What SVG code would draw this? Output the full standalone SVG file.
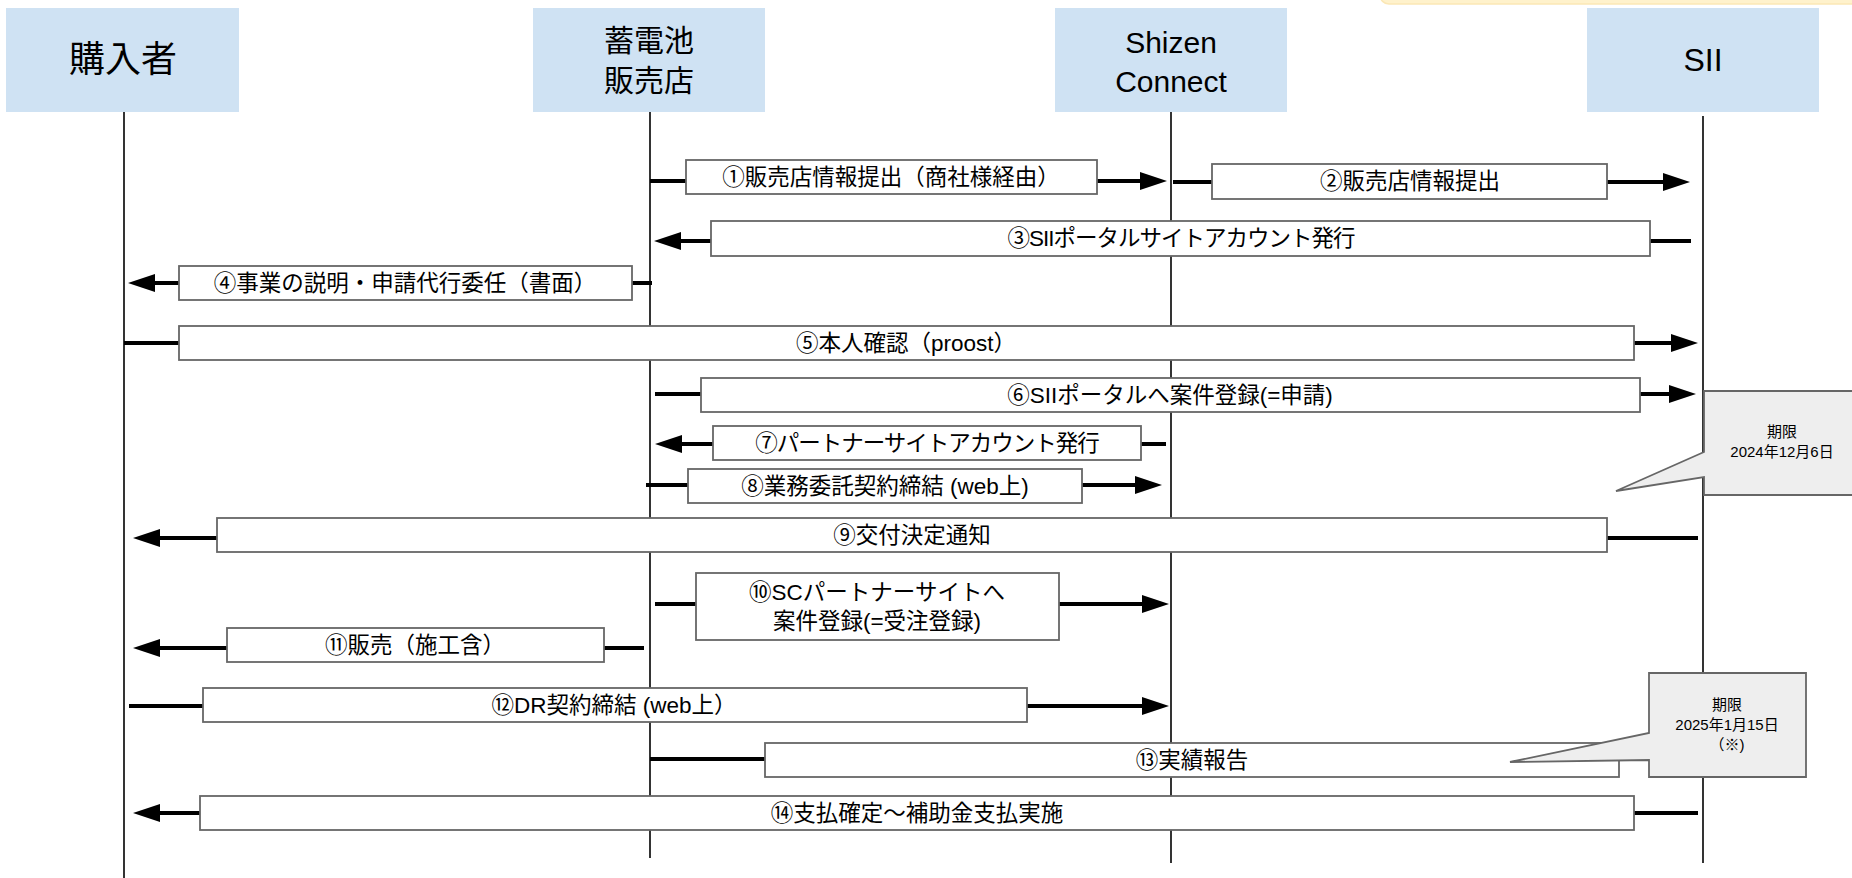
<svg xmlns="http://www.w3.org/2000/svg" width="1852" height="878" viewBox="0 0 1852 878">
<style>
.bg{fill:#ffffff}
.head{fill:#cfe2f3;stroke:none}
.htxt{font-family:"Liberation Sans","Noto Sans CJK JP",sans-serif;fill:#000;text-anchor:middle}
.life{stroke:#000;stroke-width:1.6;fill:none}
.msg{stroke:#000;stroke-width:4;fill:none}
.box{fill:#ffffff;stroke:#666666;stroke-width:1.8}
.lbl{font-family:"Liberation Sans","Noto Sans CJK JP",sans-serif;font-size:22.5px;fill:#000;text-anchor:middle}
.tight{letter-spacing:-1px}
.call{fill:#eeeeee;stroke:#666666;stroke-width:1.8}
.ctxt{font-family:"Liberation Sans","Noto Sans CJK JP",sans-serif;font-size:15px;fill:#000;text-anchor:middle}
</style>
<defs>
<marker id="arr" markerUnits="userSpaceOnUse" markerWidth="28" markerHeight="20" refX="1" refY="10" orient="auto">
<path d="M0,1 L27,10 L0,19 Z" fill="#000"/>
</marker>
</defs>
<rect class="bg" x="0" y="0" width="1852" height="878"/>
<rect x="1380" y="-40" width="490" height="44" rx="9" fill="#fff2cc" stroke="#fbe7b5" stroke-width="1.5"/>

<g id="lifelines">
<line class="life" x1="124" y1="112" x2="124" y2="878"/>
<line class="life" x1="650" y1="112" x2="650" y2="858"/>
<line class="life" x1="1171" y1="112" x2="1171" y2="863"/>
<line class="life" x1="1703" y1="116" x2="1703" y2="863"/>
</g>

<g id="node-buyer">
<rect class="head" x="6" y="8" width="233" height="104"/>
<text class="htxt" x="123" y="72" font-size="36">購入者</text>
</g>
<g id="node-shop">
<rect class="head" x="533" y="8" width="232" height="104"/>
<text class="htxt" x="649" y="51" font-size="30">蓄電池</text>
<text class="htxt" x="649" y="91" font-size="30">販売店</text>
</g>
<g id="node-shizen">
<rect class="head" x="1055" y="8" width="232" height="104"/>
<text class="htxt" x="1171" y="53" font-size="30">Shizen</text>
<text class="htxt" x="1171" y="92" font-size="30">Connect</text>
</g>
<g id="node-sii">
<rect class="head" x="1587" y="8" width="232" height="104"/>
<text class="htxt" x="1703" y="71" font-size="32">SII</text>
</g>

<g id="connectors">
<line class="msg" x1="650" y1="181" x2="1141" y2="181" marker-end="url(#arr)"/>
<line class="msg" x1="1173" y1="182" x2="1664" y2="182" marker-end="url(#arr)"/>
<line class="msg" x1="1691" y1="241" x2="680" y2="241" marker-end="url(#arr)"/>
<line class="msg" x1="652" y1="283" x2="154" y2="283" marker-end="url(#arr)"/>
<line class="msg" x1="124" y1="343" x2="1672" y2="343" marker-end="url(#arr)"/>
<line class="msg" x1="655" y1="394" x2="1670" y2="394" marker-end="url(#arr)"/>
<line class="msg" x1="1166" y1="444" x2="681" y2="444" marker-end="url(#arr)"/>
<line class="msg" x1="646" y1="485" x2="1136" y2="485" marker-end="url(#arr)"/>
<line class="msg" x1="1698" y1="538" x2="159" y2="538" marker-end="url(#arr)"/>
<line class="msg" x1="655" y1="604" x2="1143" y2="604" marker-end="url(#arr)"/>
<line class="msg" x1="644" y1="648" x2="159" y2="648" marker-end="url(#arr)"/>
<line class="msg" x1="129" y1="706" x2="1143" y2="706" marker-end="url(#arr)"/>
<line class="msg" x1="650" y1="759" x2="1671" y2="759" marker-end="url(#arr)"/>
<line class="msg" x1="1698" y1="813" x2="159" y2="813" marker-end="url(#arr)"/>
</g>

<g id="m1"><rect class="box" x="686" y="160" width="411" height="34"/><text class="lbl" x="891" y="185">①販売店情報提出（商社様経由）</text></g>
<g id="m2"><rect class="box" x="1212" y="164" width="395" height="35"/><text class="lbl" x="1410" y="189">②販売店情報提出</text></g>
<g id="m3"><rect class="box" x="711" y="221" width="939" height="35"/><text class="lbl tight" x="1181" y="246">③SIIポータルサイトアカウント発行</text></g>
<g id="m4"><rect class="box" x="179" y="266" width="453" height="34"/><text class="lbl" x="405" y="291">④事業の説明・申請代行委任（書面）</text></g>
<g id="m5"><rect class="box" x="179" y="326" width="1455" height="34"/><text class="lbl" x="906" y="351">⑤本人確認（proost）</text></g>
<g id="m6"><rect class="box" x="701" y="378" width="939" height="34"/><text class="lbl" x="1170" y="403">⑥SIIポータルへ案件登録(=申請)</text></g>
<g id="m7"><rect class="box" x="713" y="426" width="428" height="34"/><text class="lbl tight" x="927" y="451">⑦パートナーサイトアカウント発行</text></g>
<g id="m8"><rect class="box" x="688" y="469" width="394" height="34"/><text class="lbl" x="885" y="494">⑧業務委託契約締結 (web上)</text></g>
<g id="m9"><rect class="box" x="217" y="518" width="1390" height="34"/><text class="lbl" x="912" y="543">⑨交付決定通知</text></g>
<g id="m10"><rect class="box" x="696" y="573" width="363" height="67"/><text class="lbl" x="877" y="600">⑩SCパートナーサイトへ</text><text class="lbl" x="877" y="629">案件登録(=受注登録)</text></g>
<g id="m11"><rect class="box" x="227" y="628" width="377" height="34"/><text class="lbl" x="415" y="653">⑪販売（施工含）</text></g>
<g id="m12"><rect class="box" x="203" y="688" width="824" height="34"/><text class="lbl" x="614" y="713">⑫DR契約締結 (web上）</text></g>
<g id="m13"><rect class="box" x="765" y="743" width="854" height="34"/><text class="lbl" x="1192" y="768">⑬実績報告</text></g>
<g id="m14"><rect class="box" x="200" y="796" width="1434" height="34"/><text class="lbl" x="917" y="821">⑭支払確定～補助金支払実施</text></g>

<g id="callout1">
<path class="call" d="M1704,391 H1864 V495 H1704 V477 L1616,491 L1704,452 Z"/>
<text class="ctxt" x="1782" y="437">期限</text>
<text class="ctxt" x="1782" y="457">2024年12月6日</text>
</g>
<g id="callout2">
<path class="call" d="M1649,673 H1806 V777 H1649 V760 L1510,762 L1649,733 Z"/>
<text class="ctxt" x="1727" y="710">期限</text>
<text class="ctxt" x="1727" y="730">2025年1月15日</text>
<text class="ctxt" x="1727" y="750">（※)</text>
</g>
</svg>
